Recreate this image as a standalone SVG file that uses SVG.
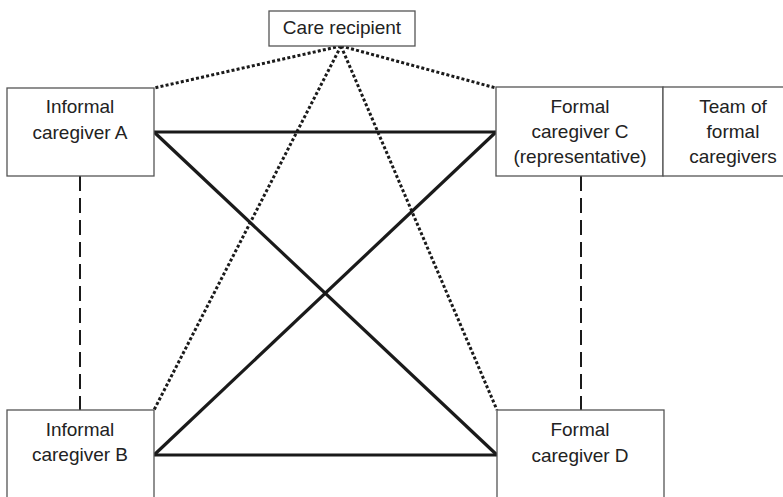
<svg xmlns="http://www.w3.org/2000/svg" width="783" height="497" viewBox="0 0 783 497">
<style>
.box{fill:#fff;stroke:#555;stroke-width:1.3}
.t{font-family:"Liberation Sans",Arial,sans-serif;font-size:19px;fill:#222;text-anchor:middle}
.solid{stroke:#1a1a1a;stroke-width:3.2;fill:none;stroke-linecap:butt}
.dash{stroke:#1a1a1a;stroke-width:2;stroke-dasharray:15 7;fill:none}
.dot{stroke:#1a1a1a;stroke-width:3;stroke-dasharray:3 2.2;fill:none}
</style>
<rect width="783" height="497" fill="#fff"/>
<g id="connectors">
<line class="dash" x1="80" y1="176" x2="80" y2="410"/>
<line class="dash" x1="581" y1="176" x2="581" y2="410"/>
<line class="dot" x1="341" y1="46" x2="154" y2="88"/>
<line class="dot" x1="341" y1="46" x2="496" y2="88"/>
<line class="dot" x1="341" y1="46" x2="154" y2="410"/>
<line class="dot" x1="341" y1="46" x2="497" y2="410"/>
<line class="solid" x1="154" y1="132" x2="496" y2="132"/>
<line class="solid" x1="154" y1="455" x2="497" y2="455"/>
<line class="solid" x1="154" y1="132" x2="497" y2="455"/>
<line class="solid" x1="154" y1="455" x2="496" y2="132"/>
</g>
<g id="care-recipient">
<rect class="box" x="269" y="11" width="146" height="35"/>
<text class="t" x="342" y="34">Care recipient</text>
</g>
<g id="informal-a">
<rect class="box" x="7" y="88" width="147" height="88"/>
<text class="t" x="80" y="113">Informal</text>
<text class="t" x="80" y="139">caregiver A</text>
</g>
<g id="formal-c">
<rect class="box" x="496" y="87" width="167" height="89"/>
<text class="t" x="580" y="113">Formal</text>
<text class="t" x="580" y="138">caregiver C</text>
<text class="t" x="580" y="163">(representative)</text>
</g>
<g id="team">
<rect class="box" x="663" y="87" width="140" height="89"/>
<text class="t" x="733" y="113">Team of</text>
<text class="t" x="733" y="138">formal</text>
<text class="t" x="733" y="163">caregivers</text>
</g>
<g id="informal-b">
<rect class="box" x="7" y="410" width="147" height="110"/>
<text class="t" x="80" y="436">Informal</text>
<text class="t" x="80" y="461">caregiver B</text>
</g>
<g id="formal-d">
<rect class="box" x="497" y="410" width="167" height="110"/>
<text class="t" x="580" y="436">Formal</text>
<text class="t" x="580" y="462">caregiver D</text>
</g>
</svg>
